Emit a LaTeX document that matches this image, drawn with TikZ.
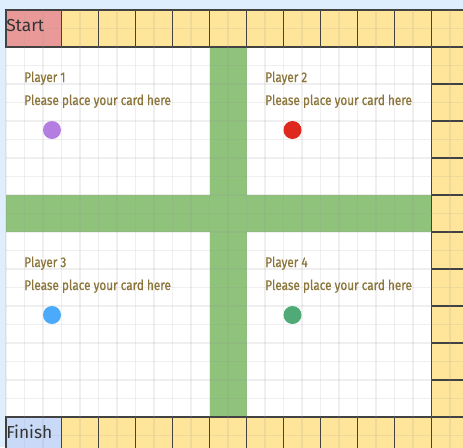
\documentclass[tikz,border=0pt]{standalone}
\usepackage{fontspec}
\usepackage{tikz}
\usetikzlibrary{positioning}
\newfontfamily\boardfont[FakeStretch=0.84, FakeBold=0.6]{Fira Sans}
\newfontfamily\cornerfont{Fira Sans}
\definecolor{skyBack}{RGB}{222, 238, 252}
\definecolor{cellYellow}{RGB}{255, 229, 153}
\definecolor{startRed}{RGB}{234, 153, 153}
\definecolor{finishBlue}{RGB}{201, 218, 248}
\definecolor{barGreen}{RGB}{143, 194, 122}
\definecolor{labelOlive}{RGB}{139, 117, 58}
\definecolor{dotPurple}{RGB}{180, 125, 225}
\definecolor{dotRed}{RGB}{222, 42, 30}
\definecolor{dotBlue}{RGB}{75, 170, 250}
\definecolor{dotGreen}{RGB}{80, 170, 120}
\tikzset{
  cellbox/.style={
    draw=black!80, line width=1.1pt, fill=cellYellow
  },
  gridline/.style={
    draw=black!40, line width=0.8pt, opacity=0.15
  },
  crossbar/.style={
    fill=barGreen
  },
  playerlabel/.style={
    anchor=base west, inner sep=0pt,
    font=\boardfont\fontsize{10.5}{12}\selectfont, text=labelOlive
  },
  cornerlabel/.style={
    anchor=base west, inner sep=0pt,
    font=\cornerfont\fontsize{13}{15}\selectfont, text=black!80
  },
  carddot/.style={
    circle, inner sep=0pt, minimum size=13.5pt
  }
}

\begin{document}
\begin{tikzpicture}[x=0.75pt, y=-0.75pt]
  \useasboundingbox (0,0) rectangle (463,447);
  \clip (0,0) rectangle (463,447);
  \fill[skyBack] (0,0) rectangle (463,447);

  % board field and green cross
  \fill[white] (6,47) rectangle (431.5,417);
  \fill[crossbar] (209.5,47) rectangle (246.5,417);
  \fill[crossbar] (6,195) rectangle (431.5,232);

  % track: top row, right column, bottom row
  \draw[cellbox, fill=startRed] (6,10) rectangle (61.5,47);
  \draw[cellbox, fill=finishBlue] (6,417) rectangle (61.5,454);
  \foreach \k in {0,...,10} {
    \draw[cellbox] ({61.5+37*\k},10) rectangle ++(37,37);
    \draw[cellbox] ({61.5+37*\k},417) rectangle ++(37,37);
  }
  \foreach \k in {0,...,9}
    \draw[cellbox] (431.5,{47+37*\k}) rectangle ++(37,37);

  % light grid over everything
  \foreach \i in {0,...,25}
    \draw[gridline] ({6+18.5*\i},10) -- ++(0,444);
  \foreach \j in {0,...,24}
    \draw[gridline] (6,{10+18.5*\j}) -- ++(463,0);

  % corner labels
  \node[cornerlabel] (start) at (6,31) {Start};
  \node[cornerlabel] (finish) at (6,438) {Finish};

  % player areas
  \node[playerlabel] (name1) at (24,82) {Player 1};
  \node[playerlabel] (card1) at (24,105) {Please place your card here};
  \node[carddot, fill=dotPurple] (dot1) at (52,130) {};

  \node[playerlabel] (name2) at (265,82) {Player 2};
  \node[playerlabel] (card2) at (265,105) {Please place your card here};
  \node[carddot, fill=dotRed] (dot2) at (292.5,130) {};

  \node[playerlabel] (name3) at (24,267) {Player 3};
  \node[playerlabel] (card3) at (24,290) {Please place your card here};
  \node[carddot, fill=dotBlue] (dot3) at (52,315) {};

  \node[playerlabel] (name4) at (265,267) {Player 4};
  \node[playerlabel] (card4) at (265,290) {Please place your card here};
  \node[carddot, fill=dotGreen] (dot4) at (292.5,315) {};

\end{tikzpicture}
\end{document}
